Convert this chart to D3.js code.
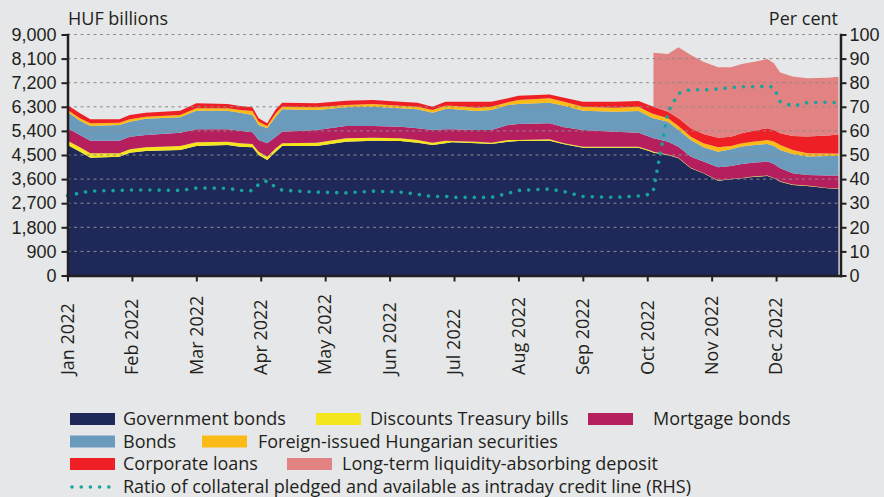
<!DOCTYPE html>
<html>
<head>
<meta charset="utf-8">
<title>Collateral pledged at the central bank</title>
<script src="https://d3js.org/d3.v7.min.js"></script>
<style>
    body {
        margin: 0;
        background: #e6e7e8;
    }
    svg {
        display: block;
        font-family: "Open Sans", sans-serif;
    }
    text {
        fill: #231f20;
    }
    .axis path, .axis line {
        stroke: #231f20;
    }
    .axis path {
        stroke-width: 2.5px;
    }
    .axis line {
        stroke-width: 2px;
    }
    .axis text {
        font-size: 18px;
    }
    .grid line {
        stroke: #8c8c8c;
        stroke-width: 1;
        stroke-dasharray: 3 3.5;
    }
</style>
</head>
<body>
<svg width="884" height="497"></svg>

<script>
// month labels on the x axis
const months = ["Jan 2022", "Feb 2022", "Mar 2022", "Apr 2022", "May 2022", "Jun 2022",
    "Jul 2022", "Aug 2022", "Sep 2022", "Oct 2022", "Nov 2022", "Dec 2022"];

const dates = ["2022-01-01", "2022-01-07", "2022-01-12", "2022-01-26", "2022-01-31",
    "2022-02-07", "2022-02-22", "2022-03-01", "2022-03-16", "2022-03-22",
    "2022-03-28", "2022-03-31", "2022-04-04", "2022-04-08", "2022-04-11",
    "2022-04-27", "2022-05-11", "2022-05-24", "2022-06-06", "2022-06-14",
    "2022-06-21", "2022-06-27", "2022-06-30", "2022-07-12", "2022-07-19",
    "2022-07-27", "2022-08-01", "2022-08-16", "2022-08-23", "2022-09-01",
    "2022-09-16", "2022-09-27", "2022-10-03", "2022-10-04", "2022-10-11",
    "2022-10-16", "2022-10-22", "2022-10-28", "2022-11-04", "2022-11-10",
    "2022-11-15", "2022-11-21", "2022-11-27", "2022-11-30", "2022-12-03",
    "2022-12-09", "2022-12-16", "2022-12-26", "2022-12-31"];

// HUF billions
const govBonds = [4873, 4623, 4399, 4436, 4585, 4649, 4686, 4836, 4873, 4809,
    4787, 4499, 4313, 4623, 4836, 4836, 4996, 5033, 5022, 4959,
    4873, 4936, 4974, 4936, 4910, 4996, 5022, 5033, 4899, 4772,
    4772, 4772, 4620, 4585, 4499, 4376, 4003, 3816, 3540, 3592,
    3629, 3689, 3715, 3629, 3503, 3379, 3342, 3256, 3230];
const tBills = [161, 164, 164, 127, 127, 138, 149, 138, 123, 127,
    123, 123, 123, 127, 101, 123, 127, 112, 101, 101,
    86, 97, 49, 60, 49, 63, 37, 52, 37, 37,
    37, 37, 37, 37, 19, 19, 19, 15, 15, 15,
    15, 15, 15, 15, 15, 15, 15, 15, 15];
const mortgageBonds = [463, 459, 470, 470, 470, 459, 497, 485, 463, 470,
    437, 437, 500, 433, 433, 474, 459, 437, 433, 437,
    474, 426, 437, 437, 474, 560, 597, 597, 597, 624,
    560, 520, 500, 500, 478, 414, 414, 422, 485, 485,
    523, 512, 523, 523, 489, 426, 400, 459, 485];
const bonds = [609, 534, 549, 586, 560, 609, 575, 695, 695, 672,
    646, 560, 560, 747, 836, 747, 698, 721, 687, 709,
    646, 758, 758, 709, 747, 747, 747, 769, 807, 721,
    747, 810, 740, 747, 747, 624, 624, 538, 583, 624,
    646, 661, 661, 672, 683, 721, 683, 736, 736];
const foreignIssued = [75, 90, 101, 86, 90, 75, 86, 90, 90, 101,
    149, 123, 86, 127, 97, 101, 86, 101, 97, 97,
    101, 123, 123, 123, 123, 101, 149, 164, 149, 149,
    149, 160, 160, 161, 127, 149, 123, 149, 164, 123,
    127, 123, 149, 161, 187, 149, 127, 90, 90];
const corporateLoans = [187, 187, 149, 127, 161, 149, 161, 187, 161, 149,
    138, 127, 101, 149, 149, 149, 161, 149, 149, 149,
    123, 149, 149, 224, 187, 149, 161, 149, 149, 187,
    224, 213, 275, 273, 246, 288, 314, 347, 358, 347,
    373, 411, 437, 437, 437, 523, 620, 672, 709];
const deposit = [null, null, null, null, null, null, null, null, null, null,
    null, null, null, null, null, null, null, null, null, null,
    null, null, null, null, null, null, null, null, null, null,
    null, null, null, 2016, 2155, 2651, 2737, 2700, 2629, 2591,
    2588, 2576, 2588, 2491, 2263, 2214, 2181, 2155, 2155];

// per cent, right axis
const ratio = [33.1, 34.2, 35.0, 35.3, 35.5, 35.5, 35.3, 36.3, 36.2, 35.3,
    35.2, 37.8, 39.3, 36.5, 35.4, 34.6, 34.3, 35.0, 34.6, 33.7,
    32.7, 32.9, 32.4, 32.4, 32.4, 34.1, 35.3, 35.9, 34.8, 32.8,
    32.4, 33.0, 33.8, 35.5, 68.0, 75.5, 77.2, 77.0, 77.4, 78.0,
    78.3, 78.3, 78.6, 78.0, 72.1, 70.3, 71.7, 71.9, 71.7];

const leftTicks = [0, 900, 1800, 2700, 3600, 4500, 5400, 6300, 7200, 8100, 9000];
const rightTicks = [0, 10, 20, 30, 40, 50, 60, 70, 80, 90, 100];

const series = [
    { key: "gov", label: "Government bonds", color: "#1e2859", values: govBonds },
    { key: "tbills", label: "Discounts Treasury bills", color: "#f4e51c", values: tBills },
    { key: "mortgage", label: "Mortgage bonds", color: "#b51f5e", values: mortgageBonds },
    { key: "bonds", label: "Bonds", color: "#6a9bbd", values: bonds },
    { key: "foreign", label: "Foreign-issued Hungarian securities", color: "#fbbb17", values: foreignIssued },
    { key: "corporate", label: "Corporate loans", color: "#ee2026", values: corporateLoans },
    { key: "deposit", label: "Long-term liquidity-absorbing deposit", color: "#e38282", values: deposit }
];
const ratioColor = "#17a49b";
const ratioLabel = "Ratio of collateral pledged and available as intraday credit line (RHS)";

// legend placement, as in the reference
const legendLayout = [
    { key: "gov", x: 70, textX: 123, row: 0 },
    { key: "tbills", x: 316, textX: 370, row: 0 },
    { key: "mortgage", x: 588, textX: 653, row: 0 },
    { key: "bonds", x: 70, textX: 123, row: 1 },
    { key: "foreign", x: 202, textX: 258, row: 1 },
    { key: "corporate", x: 70, textX: 123, row: 2 },
    { key: "deposit", x: 287, textX: 342, row: 2 }
];
const legendRowsY = [419, 441.5, 464, 487];
const legendFont = 18;

const svg = d3.select("svg");

// each month gets the same width, like the original chart
function monthPos(s) {
    const dt = d3.timeParse("%Y-%m-%d")(s);
    const m = dt.getMonth();
    const days = new Date(dt.getFullYear(), m + 1, 0).getDate();
    return m + (dt.getDate() - 1) / days;
}

const x = d3.scaleLinear().domain([0, 12]).range([67.5, 840.5]);
const yL = d3.scaleLinear().domain([0, 9000]).range([275.5, 34.5]);
const yR = d3.scaleLinear().domain([0, 100]).range([275.5, 34.5]);

const rows = dates.map((d, i) => {
    const r = { date: d, t: monthPos(d), ratio: ratio[i] };
    series.forEach(s => { r[s.key] = s.values[i] || 0; });
    r.hasDeposit = deposit[i] != null;
    return r;
});

const stack = d3.stack().keys(series.map(s => s.key));
const layers = stack(rows);

const area = d3.area()
    .x(d => x(d.data.t))
    .y0(d => yL(d[0]))
    .y1(d => yL(d[1]));

svg.append("g").selectAll("path")
    .data(layers)
    .enter().append("path")
    .attr("fill", (d, i) => series[i].color)
    .attr("d", d => d.key === "deposit"
        ? area.defined(p => p.data.hasDeposit)(d)
        : area.defined(() => true)(d));

// dashed grid on top of the areas
svg.append("g").attr("class", "grid")
    .selectAll("line")
    .data(leftTicks.slice(1))
    .enter().append("line")
    .attr("x1", x(0)).attr("x2", x(12))
    .attr("y1", d => yL(d)).attr("y2", d => yL(d));

// ratio line (RHS)
const line = d3.line()
    .x(d => x(d.t))
    .y(d => yR(d.ratio));

svg.append("path")
    .datum(rows)
    .attr("fill", "none")
    .attr("stroke", ratioColor)
    .attr("stroke-width", 3.6)
    .attr("stroke-linecap", "round")
    .attr("stroke-dasharray", "0.01 9.2")
    .attr("d", line);

// axes
svg.append("g").attr("class", "axis")
    .attr("transform", `translate(${x(0)},0)`)
    .call(d3.axisLeft(yL).tickValues(leftTicks).tickSize(6).tickSizeOuter(0)
        .tickPadding(5).tickFormat(d3.format(",")));

svg.append("g").attr("class", "axis")
    .attr("transform", `translate(${x(12)},0)`)
    .call(d3.axisRight(yR).tickValues(rightTicks).tickSize(6).tickSizeOuter(0)
        .tickPadding(3));

svg.append("g").attr("class", "axis")
    .attr("transform", `translate(0,${yL(0)})`)
    .call(d3.axisBottom(x).tickValues(d3.range(12)).tickSize(6).tickSizeOuter(0)
        .tickFormat(""));

svg.selectAll(".axis .domain").attr("stroke-linecap", "square");

svg.append("g").selectAll("text")
    .data(months)
    .enter().append("text")
    .attr("transform", (d, i) => `translate(${x(i)},375) rotate(-90)`)
    .attr("dy", "0.35em")
    .attr("font-size", 18)
    .attr("text-anchor", "start")
    .text(d => d);

svg.append("text")
    .attr("x", 68).attr("y", 25)
    .attr("font-size", 18)
    .text("HUF billions");

svg.append("text")
    .attr("x", 838).attr("y", 25)
    .attr("font-size", 18)
    .attr("text-anchor", "end")
    .text("Per cent");

// legend
const legend = svg.append("g");
legendLayout.forEach(l => {
    const s = series.find(q => q.key === l.key);
    const cy = legendRowsY[l.row];
    legend.append("rect")
        .attr("x", l.x).attr("y", cy - 6)
        .attr("width", 45).attr("height", 12)
        .attr("fill", s.color);
    legend.append("text")
        .attr("x", l.textX).attr("y", cy)
        .attr("dy", "0.35em")
        .attr("font-size", legendFont)
        .text(s.label);
});

legend.append("line")
    .attr("x1", 72).attr("x2", 114)
    .attr("y1", legendRowsY[3]).attr("y2", legendRowsY[3])
    .attr("stroke", ratioColor)
    .attr("stroke-width", 3.6)
    .attr("stroke-linecap", "round")
    .attr("stroke-dasharray", "0.01 9.2");

legend.append("text")
    .attr("x", 123).attr("y", legendRowsY[3])
    .attr("dy", "0.35em")
    .attr("font-size", legendFont)
    .text(ratioLabel);
</script>
</body>
</html>
